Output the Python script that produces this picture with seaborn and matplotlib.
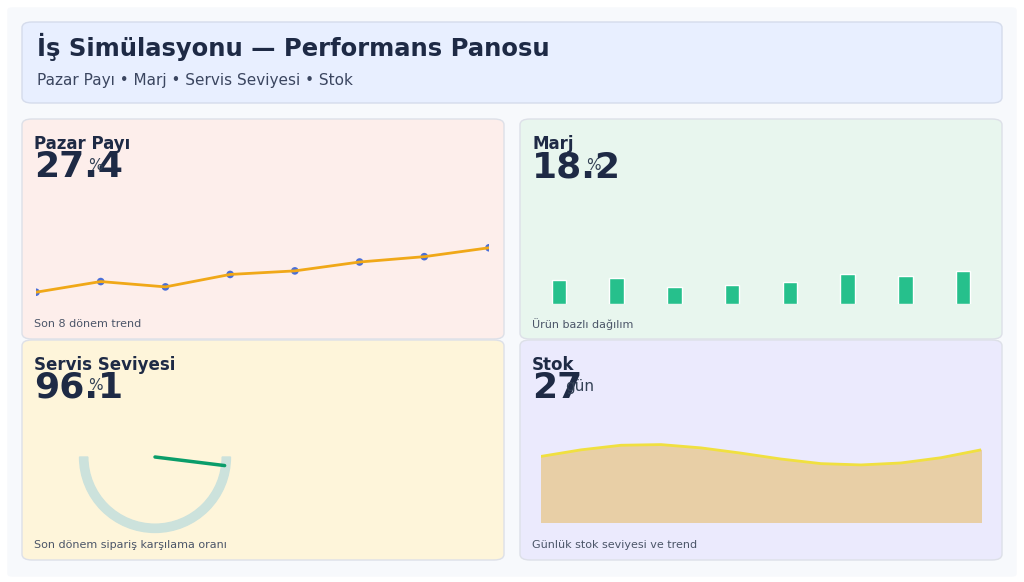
import numpy as np
import pandas as pd
import seaborn as sns
import matplotlib
matplotlib.use("Agg")
import matplotlib.pyplot as plt
from matplotlib.patches import FancyBboxPatch, Wedge

sns.set_theme(style="white")
plt.rcParams['font.family'] = ['DejaVu Sans']

title = "İş Simülasyonu — Performans Panosu"
subtitle = "Pazar Payı • Marj • Servis Seviyesi • Stok"
share_periods = [1, 2, 3, 4, 5, 6, 7, 8]
share_values = [25.0, 25.6, 25.3, 26.0, 26.2, 26.7, 27.0, 27.5]
margin_products = ["P1", "P2", "P3", "P4", "P5", "P6", "P7", "P8"]
margin_values = [15.5, 17.0, 11.0, 12.5, 14.5, 19.5, 18.3, 21.5]
service_level = 96.1
stock_days = list(range(12))
stock_values = [10.0, 11.0, 11.7, 11.8, 11.3, 10.5, 9.6, 8.9, 8.7, 9.0, 9.8, 11.0]

W, H = 1024, 582
fig = plt.figure(figsize=(W/100, H/100), dpi=100)
fig.patch.set_facecolor("white")

def fx(x): return x / W
def fy(y): return 1 - y / H

def box(x0, y0, x1, y1, fc, ec, r=10):
    p = FancyBboxPatch((fx(x0), fy(y1)), fx(x1 - x0), (y1 - y0) / H,
                       boxstyle=f"round,pad=0,rounding_size={r/W}",
                       transform=fig.transFigure, fc=fc, ec=ec, lw=1, zorder=-10)
    fig.patches.append(p)

def ax_px(x0, y0, x1, y1):
    a = fig.add_axes([fx(x0), fy(y1), fx(x1 - x0), (y1 - y0) / H])
    a.set_axis_off()
    a.patch.set_alpha(0)
    a.set_zorder(5)
    return a

box(8, 8, 1016, 576, "#f7f9fc", "#f7f9fc", 4)
box(22, 22, 1002, 103, "#e8efff", "#d5dcec")
fig.text(fx(37), fy(47), title, fontsize=17.5, fontweight="bold", color="#1e2a45", va="center")
fig.text(fx(37), fy(80), subtitle, fontsize=11, color="#3b4660", va="center")

panels = [
    (22, 119, 504, 339, "#fdeeeb", "Pazar Payı", "27.4", "%", "Son 8 dönem trend"),
    (520, 119, 1002, 339, "#e8f6ee", "Marj", "18.2", "%", "Ürün bazlı dağılım"),
    (22, 340, 504, 560, "#fef5da", "Servis Seviyesi", "96.1", "%", "Son dönem sipariş karşılama oranı"),
    (520, 340, 1002, 560, "#ebeafd", "Stok", "27", "gün", "Günlük stok seviyesi ve trend"),
]
for x0, y0, x1, y1, fc, t, v, u, foot in panels:
    box(x0, y0, x1, y1, fc, "#dde0e8")
    fig.text(fx(x0 + 12), fy(y0 + 25), t, fontsize=12, fontweight="bold", color="#1e2a45", va="center")
    fig.text(fx(x0 + 12), fy(y0 + 48), v, fontsize=26, fontweight="bold", color="#1e2a45", va="center")
    fig.text(fx(x0 + 66 if u == "%" else x0 + 45), fy(y0 + 46), u, fontsize=11, color="#334155", va="center")
    fig.text(fx(x0 + 12), fy(y0 + 205), foot, fontsize=8, color="#4b5568", va="center")

# line chart
a = ax_px(36, 230, 489, 310)
df = pd.DataFrame({"p": share_periods, "v": share_values})
sns.lineplot(data=df, x="p", y="v", ax=a, color="#f0a818", lw=2, zorder=2)
sns.scatterplot(data=df, x="p", y="v", ax=a, color="#4a6fd8", s=30, edgecolor="none", zorder=1)
a.set_xlim(1, 8); a.set_ylim(24.0, 28.5)
a.set_axis_off()

# bars
a = ax_px(530, 230, 992, 304)
dm = pd.DataFrame({"p": margin_products, "v": margin_values})
sns.barplot(data=dm, x="p", y="v", ax=a, color="#26c08c", width=0.25, saturation=1)
a.set_ylim(0, 48)
a.set_axis_off()

# gauge
a = ax_px(72, 372, 238, 542)
a.set_xlim(-1.1, 1.1); a.set_ylim(-1.1, 1.1); a.set_aspect("equal")
a.add_patch(Wedge((0, 0), 1.0, 180, 360, width=0.11, color="#cce2dc"))
ang = np.deg2rad(180 + service_level * 1.8)
sns.lineplot(x=[0, 0.93 * np.cos(ang)], y=[0, 0.93 * np.sin(ang)], ax=a, color="#0a9d6a", lw=2.5, sort=False)
a.set_axis_off()

# stock area
a = ax_px(541, 440, 981, 522)
a.fill_between(stock_days, 0, stock_values, color="#e8cfa6")
sns.lineplot(x=stock_days, y=stock_values, ax=a, color="#f0e040", lw=2)
a.set_xlim(0, 11); a.set_ylim(0, 12.5)
a.set_axis_off()

fig.savefig("out.png", dpi=100)
